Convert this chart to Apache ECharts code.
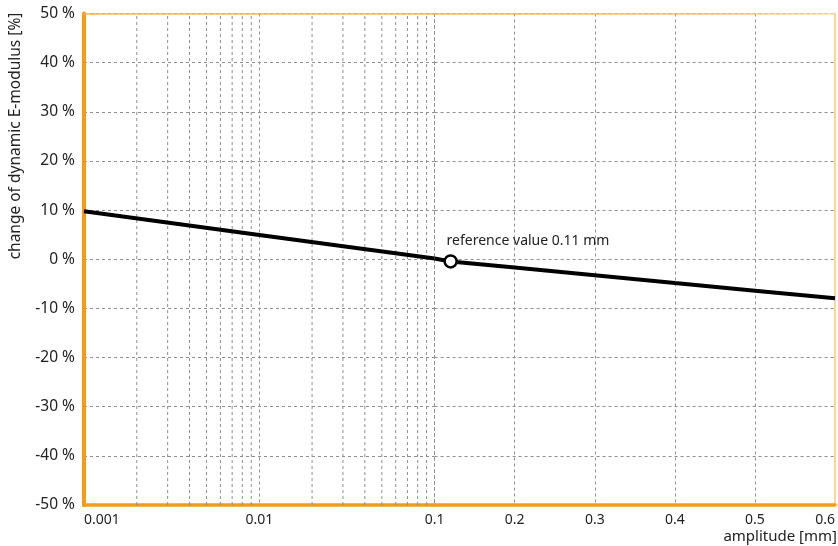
<!DOCTYPE html>
<html>
<head>
<meta charset="utf-8">
<script src="https://cdn.jsdelivr.net/npm/echarts@6/dist/echarts.min.js"></script>
<style>
html,body{margin:0;padding:0;background:#fff;}
#c{width:838px;height:546px;}
</style>
</head>
<body>
<div id="c"></div>
<script>
// ---- data ----
var logPartX = [0.001, 0.01, 0.1];
var logPartY = [9.75, 4.95, 0.15];
var linPartX = [0.1, 0.12, 0.2, 0.3, 0.4, 0.5, 0.6];
var linPartY = [0.15, -0.45, -1.7, -3.26, -4.83, -6.39, -7.95];
var refPoint = [0.12, -0.45];
var refLabel = 'reference value 0.11 mm';
var minorTicks = [0.002,0.003,0.004,0.005,0.006,0.007,0.008,0.009,
                  0.02,0.03,0.04,0.05,0.06,0.07,0.08,0.09];
var yMin = -50, yMax = 50, yStep = 10;
var xLinMin = 0.1, xLinMax = 0.6, xLinStep = 0.1;
var xLogMin = 0.001, xLogMax = 0.1;
var yName = 'change of dynamic E-modulus [%]';
var xName = 'amplitude [mm]';

function zip(a, b){ return a.map(function(v,i){ return [v, b[i]]; }); }

var FONT = '"Noto Sans", sans-serif';
var ORANGE = '#f49b1a';
var GRIDC = '#8f8f8f';
var TXT = '#222';

var dashed = {show:true, lineStyle:{color:GRIDC, type:[3,3], width:1}};

function borderAxis(grid, pos, style){
  return {gridIndex:grid, type:'value', position:pos, min:0, max:1,
    axisLabel:{show:false}, axisTick:{show:false}, splitLine:{show:false},
    axisLine:{show:true, onZero:false, lineStyle:style}};
}

var minorSeries = minorTicks.map(function(v){
  return {type:'line', xAxisIndex:0, yAxisIndex:0, data:[[v, yMin],[v, yMax]],
    symbol:'none', silent:true, z:1,
    lineStyle:{color:GRIDC, type:[3,3], width:1}};
});

var chart = echarts.init(document.getElementById('c'), null, {renderer:'canvas'});
chart.setOption({
  animation:false,
  textStyle:{fontFamily:FONT},
  grid:[
    {left:84, top:13.5, width:350.6, bottom:41},
    {left:434.6, top:13.5, right:1, bottom:41}
  ],
  xAxis:[
    {gridIndex:0, type:'log', logBase:10, min:xLogMin, max:xLogMax,
     axisLine:{show:false, onZero:false}, axisTick:{show:false},
     splitLine:dashed,
     axisLabel:{color:TXT, fontSize:14, fontFamily:FONT, margin:8, alignMinLabel:'left', showMaxLabel:true,
       formatter:function(v){ return String(+v.toPrecision(3)); }}},
    {gridIndex:1, type:'value', min:xLinMin, max:xLinMax, interval:xLinStep,
     axisLine:{show:false, onZero:false}, axisTick:{show:false},
     splitLine:dashed,
     axisLabel:{color:TXT, fontSize:14, fontFamily:FONT, margin:8, showMinLabel:false, alignMaxLabel:'right',
       formatter:function(v){ return String(+v.toFixed(2)); }}},
    borderAxis(0, 'top', {color:'#f4b75a', width:1.5}),
    borderAxis(1, 'top', {color:new echarts.graphic.LinearGradient(0,0,1,0,[{offset:0,color:'#f4b75a'},{offset:0.7,color:'#f6c27a'},{offset:1,color:'#fcdcaa'}]), width:1.5}),
    borderAxis(0, 'bottom', {color:ORANGE, width:3.5}),
    borderAxis(1, 'bottom', {color:ORANGE, width:3.5})
  ],
  yAxis:[
    {gridIndex:0, type:'value', min:yMin, max:yMax, interval:yStep,
     axisLine:{show:true, onZero:false, lineStyle:{color:ORANGE, width:4}}, axisTick:{show:false},
     splitLine:dashed,
     axisLabel:{color:TXT, fontSize:15.5, fontFamily:FONT, margin:9, formatter:'{value} %'}},
    {gridIndex:1, type:'value', min:yMin, max:yMax, interval:yStep,
     axisLine:{show:false, onZero:false}, axisTick:{show:false}, axisLabel:{show:false},
     splitLine:dashed},
    borderAxis(1, 'right', {color:'#fcd7a0', width:2})
  ],
  series:minorSeries.concat([
    {type:'line', xAxisIndex:0, yAxisIndex:0, data:zip(logPartX, logPartY), symbol:'none',
     lineStyle:{color:'#000', width:4}, z:5},
    {type:'line', xAxisIndex:1, yAxisIndex:1, data:zip(linPartX, linPartY), symbol:'none',
     lineStyle:{color:'#000', width:4}, z:5},
    {type:'scatter', xAxisIndex:1, yAxisIndex:1, data:[refPoint], symbol:'circle', symbolSize:12,
     itemStyle:{color:'#fff', borderColor:'#000', borderWidth:2.5, opacity:1}, z:10,
     label:{show:true, position:'top', distance:6, align:'left', offset:[-4,0],
       formatter:refLabel, color:TXT, fontSize:14, fontFamily:FONT}}
  ]),
  graphic:[
    {type:'text', x:16, y:136, rotation:Math.PI/2,
     style:{text:yName, fill:TXT, font:'15.5px "Noto Sans", sans-serif', align:'center', verticalAlign:'middle'}},
    {type:'text', right:1, top:529,
     style:{text:xName, fill:TXT, font:'15px "Noto Sans", sans-serif'}}
  ]
});
</script>
</body>
</html>
